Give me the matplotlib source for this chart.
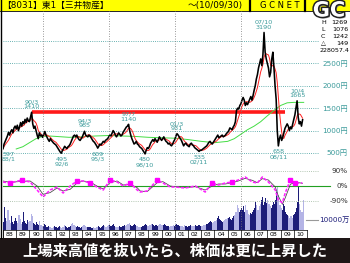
import numpy as np
import pandas as pd
import matplotlib
matplotlib.use("Agg")
import matplotlib.pyplot as plt
import matplotlib.patheffects as pe
import matplotlib.transforms as mtransforms
from matplotlib.lines import Line2D
from matplotlib.patches import Rectangle

plt.rcParams['font.family'] = ['DejaVu Sans', 'Noto Sans CJK JP']

# ---------------- data ----------------
start_year = 1988
monthly_close = [
    597, 700, 760, 820, 880, 960, 900, 980, 1020, 950, 1060, 1100,      # 1988
    1040, 1120, 1000, 1080, 1180, 1100, 1200, 1150, 1250, 1180, 1280, 1220,  # 1989
    1200, 1300, 1410, 1150, 1050, 1100, 1000, 900, 820, 950, 880, 900,  # 1990
    850, 920, 980, 900, 850, 800, 760, 820, 780, 750, 720, 700,         # 1991
    680, 640, 600, 560, 520, 495, 560, 600, 650, 620, 600, 640,         # 1992
    660, 700, 760, 820, 880, 900, 860, 900, 840, 800, 780, 820,         # 1993
    860, 920, 985, 900, 880, 860, 900, 880, 840, 800, 760, 740,         # 1994
    700, 660, 609, 650, 700, 680, 720, 760, 740, 780, 800, 820,         # 1995
    860, 900, 880, 940, 1000, 960, 900, 860, 900, 950, 920, 880,        # 1996
    900, 960, 1000, 1040, 1080, 1100, 1140, 1000, 900, 820, 760, 700,   # 1997
    720, 760, 700, 680, 640, 620, 600, 560, 520, 480, 560, 620,         # 1998
    600, 650, 720, 760, 800, 760, 820, 780, 740, 800, 860, 820,         # 1999
    780, 820, 860, 800, 760, 740, 700, 720, 680, 660, 700, 760,         # 2000
    800, 880, 931, 900, 860, 820, 780, 720, 660, 700, 720, 680,         # 2001
    660, 640, 700, 720, 680, 660, 620, 600, 580, 560, 535, 560,         # 2002
    560, 580, 600, 620, 640, 660, 700, 740, 760, 720, 700, 740,         # 2003
    780, 820, 860, 900, 840, 860, 880, 900, 860, 880, 900, 940,         # 2004
    960, 1000, 1060, 1040, 1020, 1080, 1120, 1200, 1450, 1500, 1480, 1560,  # 2005
    1600, 1680, 1740, 1680, 1560, 1620, 1580, 1640, 1700, 1760, 1680, 1780,  # 2006
    1900, 2000, 2150, 2250, 2400, 2500, 2600, 2450, 2700, 3190, 2750, 2600,  # 2007
    2500, 2400, 2200, 2300, 2600, 2750, 2400, 2000, 1700, 1000, 658, 820,    # 2008
    900, 780, 850, 950, 1050, 1100, 1150, 1100, 1000, 1080, 1040, 1150,      # 2009
    1250, 1350, 1500, 1665, 1300, 1150, 1200, 1100, 1242,                    # 2010
]
monthly_volume = [  # 万株
    8000, 23000, 12000, 9000, 20000, 10000, 7000, 14000, 8000, 6000, 9000, 12000,
    9000, 7000, 15000, 11000, 6000, 8000, 18000, 9000, 7000, 6000, 10000, 8000,
    9000, 16000, 14000, 7000, 6000, 5000, 8000, 6000, 5000, 9000, 5000, 4000,
    4000, 6000, 5000, 3500, 3000, 4000, 3000, 3500, 2500, 3000, 4000, 3000,
    3000, 2500, 3000, 4000, 3000, 2500, 3500, 5000, 4000, 3000, 2500, 3000,
    3500, 4000, 6000, 7000, 5000, 4000, 3000, 4500, 3500, 3000, 2500, 3000,
    4000, 5000, 4500, 3500, 3000, 3000, 3500, 3000, 2500, 2500, 3000, 2500,
    3000, 3500, 4000, 3000, 2500, 3000, 4500, 5000, 4000, 3500, 4000, 5000,
    5000, 4500, 4000, 5500, 6000, 4000, 3500, 3000, 3500, 4000, 3000, 3500,
    4000, 4500, 5000, 4000, 5500, 6000, 7000, 5000, 4500, 4000, 5000, 6000,
    5000, 4500, 4000, 3500, 3000, 3500, 4000, 4500, 5000, 6000, 5000, 4000,
    4000, 5000, 6000, 6500, 5000, 4500, 5500, 5000, 4500, 5000, 6000, 5000,
    5000, 5500, 6000, 5000, 4500, 4000, 4000, 3500, 4000, 4500, 5000, 4500,
    5000, 6000, 5500, 5000, 4500, 4000, 4000, 3500, 5000, 4500, 4000, 3500,
    4000, 4500, 5000, 4500, 4000, 4500, 5000, 4500, 4000, 5000, 5500, 4500,
    4000, 4500, 5000, 5500, 6000, 6500, 7000, 8000, 9000, 8000, 7000, 8000,
    9000, 10000, 12000, 14000, 11000, 10000, 9000, 8000, 9000, 10000, 11000, 12000,
    12000, 13000, 11000, 10000, 12000, 14000, 15000, 18000, 25000, 22000, 18000, 20000,
    22000, 20000, 24000, 18000, 25000, 20000, 16000, 15000, 17000, 16000, 18000, 20000,
    22000, 28000, 25000, 20000, 24000, 26000, 30000, 33000, 25000, 28000, 32000, 27000,
    30000, 26000, 24000, 22000, 25000, 28000, 26000, 30000, 38000, 43000, 35000, 25000,
    22000, 20000, 26000, 24000, 18000, 16000, 15000, 14000, 12000, 14000, 12000, 15000,
    16000, 18000, 22000, 28000, 43000, 26000, 20000, 18000, 30000,
]
ma_long_years = [1989.0, 1989.5, 1990.0, 1990.5, 1991.0, 1991.5, 1992.0, 1993.0, 1994.0,
                 1995.0, 1996.0, 1997.0, 1998.0, 1999.0, 2000.0, 2001.0, 2002.0, 2003.0,
                 2004.0, 2005.0, 2005.5, 2006.0, 2006.5, 2007.0, 2007.5, 2008.0, 2008.5,
                 2009.0, 2009.5, 2010.0, 2010.75]
ma_long_values = [590, 640, 730, 820, 870, 880, 870, 850, 860, 880, 890, 880, 870, 850,
                  840, 830, 800, 760, 730, 760, 820, 920, 1020, 1100, 1200, 1330, 1450,
                  1560, 1620, 1630, 1630]
osc_years = [1988.0, 1988.53, 1989.44, 1990.05, 1990.58, 1991.03, 1991.56, 1992.09, 1992.55,
             1993.08, 1993.6, 1994.06, 1994.6, 1995.1, 1995.58, 1996.1, 1996.64, 1997.1,
             1997.62, 1998.15, 1998.38, 1998.9, 1999.67, 2000.1, 2000.65, 2001.03, 2001.79,
             2002.55, 2003.3, 2003.83, 2004.29, 2004.82, 2005.35, 2005.8, 2006.33, 2006.86,
             2007.24, 2007.62, 2008.08, 2008.6, 2008.83, 2009.14, 2009.36, 2009.74, 2010.12,
             2010.65]
osc_main = [24, 18, 36, 24, -24, -66, -24, -6, -42, 0, 30, 30, 18, -6, -24, 36, 24, 0, 18,
            -24, -36, -30, 36, 18, -6, -6, -12, 0, -36, 18, 6, 18, 24, 36, 54, 24, 18, 54,
            24, -24, -84, -100, -40, 36, 18, 18]
osc_signal = [30, 22, 28, 30, 0, -50, -40, -12, -30, -20, 18, 30, 24, 0, -18, 20, 30, 6,
              10, -10, -30, -34, 20, 26, 0, -4, -10, -4, -24, 0, 12, 12, 20, 30, 46, 34, 20,
              44, 36, -6, -60, -110, -70, 10, 24, 16]
osc_marks = [1, 2, 10, 12, 15, 18, 22, 29, 32, 43, 44]
high_dates = ['90/3', '94/3', '97/7', '01/3', '07/10', '10/4']
high_values = [1410, 985, 1140, 931, 3190, 1665]
low_dates = ['88/1', '92/6', '95/3', '98/10', '02/11', '08/11']
low_values = [597, 495, 609, 480, 535, 658]
record_high = 1410
record_span = (1990.17, 2009.3)
price_ticks = [500, 1000, 1500, 2000, 2500]
grid_prices = [500, 1000, 1500, 2000, 2500, 3000]
osc_ticks = [90, 0, -90]
osc_tick_labels = ['90%', '0%', '-90%']
vol_tick = 10000
year_labels = ['88', '89', '90', '91', '92', '93', '94', '95', '96', '97', '98', '99',
               '00', '01', '02', '03', '04', '05', '06', '07', '08', '09', '10']
info_keys = ['H', 'L', 'C', '△']
info_vals = ['1269', '1076', '1242', '149']
info_volume = '228057.4'
title_left = '【8031】東1【三井物産】'
title_mid = '～(10/09/30)'
caption = '上場来高値を抜いたら、株価は更に上昇した'

# ---------------- layout helpers ----------------
W, H = 350, 263
fig = plt.figure(figsize=(3.5, 2.63), dpi=100)
fig.patch.set_facecolor('white')


def rect(x0, y0, x1, y1):
    return [x0 / W, 1 - y1 / H, (x1 - x0) / W, (y1 - y0) / H]


def ftext(x, y, s, **kw):
    return fig.text(x / W, 1 - y / H, s, **kw)


teal = '#3a9a9a'
X0, X1 = 3, 307
years = start_year + np.arange(len(monthly_close)) / 12.0
close = pd.Series(monthly_close, dtype=float)
ma_short = close.rolling(6, min_periods=1).mean()


def price_at(px):
    return 500 + (153 - px) / 22.4 * 500


ax_vol = fig.add_axes(rect(X0, 175, X1, 230))
ax_osc = fig.add_axes(rect(X0, 158, X1, 230))
ax = fig.add_axes(rect(X0, 11, X1, 157))
for a in (ax_vol, ax_osc, ax):
    a.set_xlim(1988, 2011)
    a.set_axis_off()
    a.patch.set_alpha(0)
ax.set_ylim(price_at(157), price_at(11))
ax_osc.set_ylim((186 - 230) * 6, (186 - 158) * 6)
ax_vol.set_ylim(0, 55000)

# header band
fig.patches.append(Rectangle((0, 1 - 11 / H), 1, 11 / H, transform=fig.transFigure,
                             facecolor='#ffff00', edgecolor='none', zorder=0))
fig.lines.append(Line2D([0, 1], [1 - 10.7 / H] * 2, transform=fig.transFigure,
                        color='black', lw=0.6))
fig.lines.append(Line2D([0.5 / W] * 2, [1 - 238 / H, 1], transform=fig.transFigure,
                        color='black', lw=1.0))
for bx in (249.5, 304.5):
    fig.lines.append(Line2D([bx / W] * 2, [1 - 10.5 / H, 1], transform=fig.transFigure,
                            color='black', lw=1.6))
ftext(2, 5.3, title_left, fontsize=6.3, va='center', ha='left', color='black')
ftext(188, 5.3, title_mid, fontsize=6.3, va='center', ha='left', color='black')
ftext(280, 5.5, 'G C N E T', fontsize=6.0, va='center', ha='center', color='black')

# grid lines
for gp in grid_prices:
    ax.axhline(gp, xmin=0, xmax=(318 - X0) / (X1 - X0), color=teal, lw=0.6,
               ls=(0, (1, 1.6)), clip_on=False, zorder=1)
for vx in (1991, 1996, 2001, 2006):
    fig.lines.append(Line2D([(X0 + (vx - 1988) * (X1 - X0) / 23) / W] * 2,
                            [1 - 229 / H, 1 - 11 / H], transform=fig.transFigure,
                            color='#777777', lw=0.6, ls=(0, (1, 2))))

# record high line
ax.plot(record_span, [record_high, record_high], color='#ff1a1a', lw=2.6,
        solid_capstyle='butt', zorder=3)
# moving averages and price
ax.plot(ma_long_years, ma_long_values, color='#44dd44', lw=0.7, zorder=4)
ax.plot(years, ma_short, color='#ff2020', lw=0.7, zorder=4)
ax.plot(years, close, color='black', lw=1.15, zorder=5)

# high / low labels
def date_to_year(d):
    yy, mm = d.split('/')
    yy = int(yy)
    yr = 1900 + yy if yy > 50 else 2000 + yy
    return yr + (int(mm) - 1) / 12.0


for d, v in zip(high_dates, high_values):
    ax.annotate(f'{d}\n{v}', xy=(date_to_year(d), v), xytext=(0, 2),
                textcoords='offset points', ha='center', va='bottom', fontsize=4.6,
                color=teal, linespacing=0.95, annotation_clip=False, zorder=6)
for d, v in zip(low_dates, low_values):
    x = max(date_to_year(d), 1988.45)
    ax.annotate(f'{v}\n{d}', xy=(x, v), xytext=(0, -2.5),
                textcoords='offset points', ha='center', va='top', fontsize=4.6,
                color=teal, linespacing=0.95, annotation_clip=False, zorder=6)

# price axis labels
tr = mtransforms.blended_transform_factory(fig.transFigure, ax.transData)
for p in price_ticks:
    ax.text(348 / W, p, f'{p}円', transform=tr, ha='right', va='center',
            fontsize=5.2, color=teal)

# volume
t_vol = start_year + np.arange(len(monthly_volume)) / 12.0
ax_vol.bar(t_vol, monthly_volume, width=1 / 12, align='edge', color='#b4b4e6',
           edgecolor='none', zorder=1)
ax_vol.bar(t_vol + 1 / 24, monthly_volume, width=0.045, align='center', color='#1c1c78',
           edgecolor='none', zorder=2)
trv = mtransforms.blended_transform_factory(fig.transFigure, ax_vol.transData)
ax_vol.plot([306 / W, 318 / W], [vol_tick, vol_tick], transform=trv, color='#999999',
            lw=0.8, clip_on=False)
ax_vol.text(350 / W, vol_tick, f'{vol_tick}万', transform=trv, ha='right', va='center',
            fontsize=5.2, color='#1c1c78')

# oscillator
tro = mtransforms.blended_transform_factory(fig.transFigure, ax_osc.transData)
for ot in (90, -90):
    ax_osc.plot([X0 / W, 318 / W], [ot, ot], transform=tro, color='#9ab49a', lw=0.6,
                ls=(0, (1, 1.6)), clip_on=False)
ax_osc.plot([X0 / W, 330 / W], [0, 0], transform=tro, color='#22a022', lw=0.8,
            clip_on=False, zorder=2)
ax_osc.plot(osc_years, osc_signal, color='#444444', lw=0.55, zorder=3)
ax_osc.plot(osc_years, osc_main, color='#ff22ff', lw=1.15, ls=(0, (2, 1)), zorder=4,
            marker='s', markersize=2.6, markevery=osc_marks, markerfacecolor='#ff00ff',
            markeredgecolor='#ff00ff')
for ot, ol in zip(osc_ticks, osc_tick_labels):
    ax_osc.text(348 / W, ot, ol, transform=tro, ha='right', va='center', fontsize=5.2,
                color='#333333')

# year label row
ax_lab = fig.add_axes(rect(X0, 230, X1, 238))
ax_lab.set_xlim(1988, 2011)
ax_lab.set_ylim(0, 1)
ax_lab.set_xticks([])
ax_lab.set_yticks([])
for s in ax_lab.spines.values():
    s.set_linewidth(0.5)
for i, lab in enumerate(year_labels):
    ax_lab.axvline(1988 + i, color='black', lw=0.5)
    ax_lab.text(1988 + i + 0.5, 0.45, lab, ha='center', va='center', fontsize=4.4,
                color='black')

# caption banner
fig.patches.append(Rectangle((0, 0), 1, 25 / H, transform=fig.transFigure,
                             facecolor='#1e1616', edgecolor='none', zorder=0))
ftext(175, 250.5, caption, fontsize=11, fontweight='bold', color='white',
      ha='center', va='center', family=['Noto Sans CJK JP', 'DejaVu Sans'])

# info block
for i, (k, v) in enumerate(zip(info_keys, info_vals)):
    y = 23 + i * 6.7
    ftext(321, y, k, fontsize=4.6, ha='left', va='center', color='black')
    ftext(348, y, v, fontsize=4.6, ha='right', va='center', color='black')
ftext(349, 50, info_volume, fontsize=4.6, ha='right', va='center', color='black')

# GC logo
logo = ftext(329, 10.5, 'GC', fontsize=15, fontweight='bold', color='white',
             ha='center', va='center', family='DejaVu Sans')
logo.set_path_effects([pe.withSimplePatchShadow(offset=(1.2, -1.2), shadow_rgbFace='#888888', alpha=1.0),
                       pe.Stroke(linewidth=2.2, foreground='#222222'), pe.Normal()])

fig.savefig('out.png', dpi=100, facecolor='white')
